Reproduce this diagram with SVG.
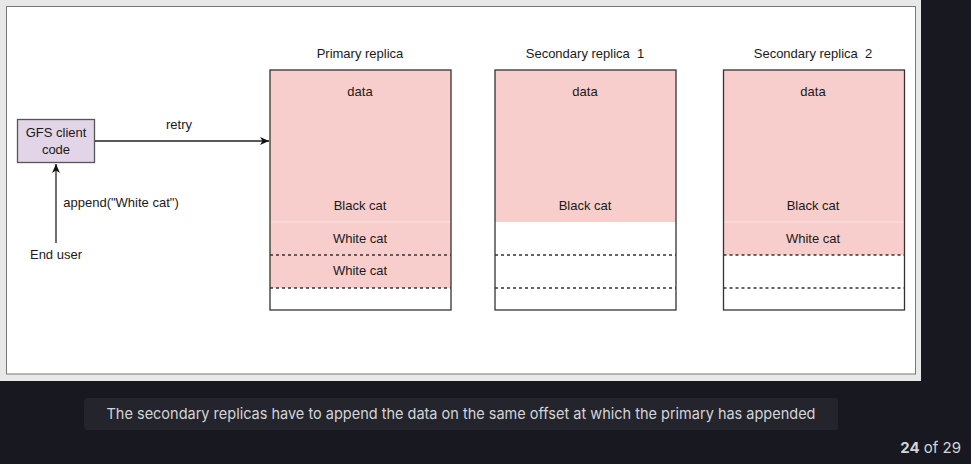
<svg xmlns="http://www.w3.org/2000/svg" width="971" height="464" viewBox="0 0 971 464">
<style>
.t{font-family:"Liberation Sans",Arial,sans-serif;font-size:13px;fill:#1a1a1a;text-anchor:middle}
.pink{fill:#f8cecc;stroke:none}
.box{fill:none;stroke:#333;stroke-width:1.3}
.dash{stroke:#333;stroke-width:1.3;stroke-dasharray:3 3;fill:none}
.conn{stroke:#222;stroke-width:1.3;fill:none}
</style>
<defs>
<marker id="ah" markerWidth="10" markerHeight="10" refX="9" refY="5" orient="auto" markerUnits="userSpaceOnUse">
<path d="M0,1 L9,5 L0,9 L2.5,5 Z" fill="#111"/>
</marker>
</defs>
<rect x="0" y="0" width="971" height="464" fill="#181920"/>
<rect x="0" y="0" width="921" height="381" fill="#e8e8e8"/>
<rect x="6.5" y="6.5" width="909" height="367.5" fill="#fff" stroke="#777" stroke-width="1"/>

<g id="primary">
<text class="t" x="360" y="58">Primary replica</text>
<rect class="pink" x="270" y="70" width="181" height="218"/>
<line x1="271" y1="222" x2="450" y2="222" stroke="#fbe3e2" stroke-width="1"/>
<line class="dash" x1="270" y1="255" x2="451" y2="255"/>
<line class="dash" x1="270" y1="288" x2="451" y2="288"/>
<rect class="box" x="270" y="70" width="181" height="240"/>
<text class="t" x="360" y="96">data</text>
<text class="t" x="360" y="210">Black cat</text>
<text class="t" x="360" y="243">White cat</text>
<text class="t" x="360" y="275">White cat</text>
</g>

<g id="secondary1">
<text class="t" x="585" y="58" xml:space="preserve">Secondary replica  1</text>
<rect class="pink" x="495" y="70" width="181" height="152"/>
<line class="dash" x1="495" y1="255" x2="676" y2="255"/>
<line class="dash" x1="495" y1="288" x2="676" y2="288"/>
<rect class="box" x="495" y="70" width="181" height="240"/>
<text class="t" x="585" y="96">data</text>
<text class="t" x="585" y="210">Black cat</text>
</g>

<g id="secondary2">
<text class="t" x="813" y="58" xml:space="preserve">Secondary replica  2</text>
<rect class="pink" x="723.5" y="70" width="181" height="185"/>
<line x1="724" y1="222" x2="904" y2="222" stroke="#fbe3e2" stroke-width="1"/>
<line class="dash" x1="723.5" y1="255" x2="904.5" y2="255"/>
<line class="dash" x1="723.5" y1="288" x2="904.5" y2="288"/>
<rect class="box" x="723.5" y="70" width="181" height="240"/>
<text class="t" x="813" y="96">data</text>
<text class="t" x="813" y="210">Black cat</text>
<text class="t" x="813" y="243">White cat</text>
</g>

<g id="client">
<rect x="17.5" y="119.5" width="77" height="43" fill="#e1d5e7" stroke="#555" stroke-width="1.3"/>
<text class="t" x="56" y="137">GFS client</text>
<text class="t" x="56" y="154">code</text>
</g>

<g id="enduser">
<text class="t" x="56" y="259">End user</text>
</g>

<g id="connectors">
<line class="conn" x1="95" y1="141" x2="269" y2="141" marker-end="url(#ah)"/>
<text class="t" x="179" y="129">retry</text>
<line class="conn" x1="56" y1="243" x2="56" y2="164" marker-end="url(#ah)"/>
<text class="t" x="121" y="207">append("White cat")</text>
</g>

<g id="caption">
<rect x="84" y="398" width="754" height="32" rx="3" fill="#23242c"/>
<text x="461" y="419" font-family="Inter,'Open Sans',sans-serif" font-size="15" fill="#d4d4d8" text-anchor="middle" textLength="709" lengthAdjust="spacingAndGlyphs">The secondary replicas have to append the data on the same offset at which the primary has appended</text>
<text x="961" y="453" font-family="Inter,'Open Sans',sans-serif" font-size="15" fill="#d4d4d8" text-anchor="end"><tspan font-weight="bold">24</tspan> of 29</text>
</g>
</svg>
